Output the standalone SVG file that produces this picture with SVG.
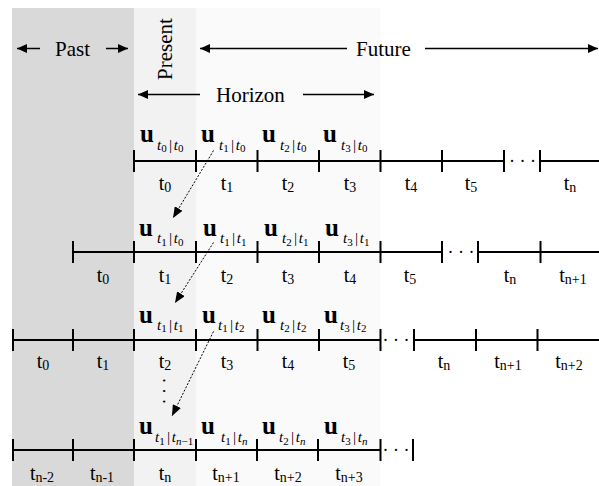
<svg xmlns="http://www.w3.org/2000/svg" width="599" height="486" viewBox="0 0 599 486">
<defs>
<marker id="ah" viewBox="0 0 10 9" refX="10" refY="4.5" markerWidth="10" markerHeight="9" markerUnits="userSpaceOnUse" orient="auto"><path d="M0,0 L10,4.5 L0,9 Z" fill="#000"/></marker>
<marker id="ahd" viewBox="0 0 11 9" refX="11" refY="4.5" markerWidth="11" markerHeight="9" markerUnits="userSpaceOnUse" orient="auto"><path d="M0,0 L11,4.5 L0,9 Z" fill="#000"/></marker>
</defs>
<style>
text { font-family: "Liberation Serif", "Times New Roman", serif; fill:#000; }
.hd { font-size:21px; }
.ha { stroke:#000; stroke-width:1.5; fill:none; marker-end:url(#ah); }
.ax { stroke:#000; stroke-width:2; fill:none; }
.lbl { font-size:20px; text-anchor:middle; }
.ls { font-size:14px; }
.u { font-weight:bold; font-size:25px; }
.i { font-style:italic; font-size:15px; }
.d { font-size:11px; }
.di { font-size:11px; font-style:italic; }
.dots { font-size:18px; text-anchor:middle; }
.cn { stroke:#000; stroke-width:1; stroke-dasharray:2 1.6; fill:none; marker-end:url(#ahd); }
</style>
<g id="background">
<rect x="12" y="8" width="122" height="478" fill="#d9d9d9"/>
<rect x="134" y="8" width="62" height="478" fill="#f2f2f2"/>
<rect x="196" y="8" width="184.5" height="478" fill="#fafafa"/>
</g>
<g id="header">
<line class="ha" x1="40" y1="48.5" x2="17" y2="48.5"/>
<text class="hd" x="55" y="56">Past</text>
<line class="ha" x1="106" y1="48.5" x2="128" y2="48.5"/>
<text class="hd" transform="translate(172,49) rotate(-90)" text-anchor="middle">Present</text>
<line class="ha" x1="347" y1="48.5" x2="200" y2="48.5"/>
<text class="hd" x="356" y="56">Future</text>
<line class="ha" x1="425" y1="48.5" x2="598" y2="48.5"/>
<line class="ha" x1="200" y1="94.5" x2="138" y2="94.5"/>
<text class="hd" x="216" y="101.5">Horizon</text>
<line class="ha" x1="303" y1="94.5" x2="374" y2="94.5"/>
</g>
<g id="row1">
<path class="ax" d="M134,161 H504 M540,161 H599 M134,150 V172 M196,150 V172 M257.5,150 V172 M319,150 V172 M380.5,150 V172 M442,150 V172 M504,150 V172 M540,150 V172"/>
<text class="dots" x="522.5" y="167">· · ·</text>
<text x="140" y="141.5"><tspan class="u">u</tspan><tspan class="i" x="157" y="149.5">t</tspan><tspan class="d" dy="2.5">0</tspan><tspan class="i" dx="1.5" dy="-2.5">|</tspan><tspan class="i" dx="1.5">t</tspan><tspan class="d" dy="2.5">0</tspan></text>
<text x="201" y="141.5"><tspan class="u">u</tspan><tspan class="i" x="219" y="149.5">t</tspan><tspan class="d" dy="2.5">1</tspan><tspan class="i" dx="1.5" dy="-2.5">|</tspan><tspan class="i" dx="1.5">t</tspan><tspan class="d" dy="2.5">0</tspan></text>
<text x="262" y="141.5"><tspan class="u">u</tspan><tspan class="i" x="280" y="149.5">t</tspan><tspan class="d" dy="2.5">2</tspan><tspan class="i" dx="1.5" dy="-2.5">|</tspan><tspan class="i" dx="1.5">t</tspan><tspan class="d" dy="2.5">0</tspan></text>
<text x="323" y="141.5"><tspan class="u">u</tspan><tspan class="i" x="341" y="149.5">t</tspan><tspan class="d" dy="2.5">3</tspan><tspan class="i" dx="1.5" dy="-2.5">|</tspan><tspan class="i" dx="1.5">t</tspan><tspan class="d" dy="2.5">0</tspan></text>
<text class="lbl" x="165" y="190">t<tspan class="ls" dy="2">0</tspan></text>
<text class="lbl" x="227" y="190">t<tspan class="ls" dy="2">1</tspan></text>
<text class="lbl" x="288" y="190">t<tspan class="ls" dy="2">2</tspan></text>
<text class="lbl" x="350" y="190">t<tspan class="ls" dy="2">3</tspan></text>
<text class="lbl" x="411" y="190">t<tspan class="ls" dy="2">4</tspan></text>
<text class="lbl" x="471" y="190">t<tspan class="ls" dy="2">5</tspan></text>
<text class="lbl" x="570" y="190">t<tspan class="ls" dy="2">n</tspan></text>
</g>
<g id="row2">
<path class="ax" d="M73,252 H442 M478,252 H599 M73,241 V263 M134,241 V263 M196,241 V263 M257.5,241 V263 M319,241 V263 M380.5,241 V263 M442,241 V263 M478,241 V263 M540.5,241 V263"/>
<text class="dots" x="461" y="258">· · ·</text>
<text x="139" y="236"><tspan class="u">u</tspan><tspan class="i" x="157" y="243">t</tspan><tspan class="d" dy="2.5">1</tspan><tspan class="i" dx="1.5" dy="-2.5">|</tspan><tspan class="i" dx="1.5">t</tspan><tspan class="d" dy="2.5">0</tspan></text>
<text x="203" y="236"><tspan class="u">u</tspan><tspan class="i" x="220" y="243">t</tspan><tspan class="d" dy="2.5">1</tspan><tspan class="i" dx="1.5" dy="-2.5">|</tspan><tspan class="i" dx="1.5">t</tspan><tspan class="d" dy="2.5">1</tspan></text>
<text x="264" y="236"><tspan class="u">u</tspan><tspan class="i" x="282" y="243">t</tspan><tspan class="d" dy="2.5">2</tspan><tspan class="i" dx="1.5" dy="-2.5">|</tspan><tspan class="i" dx="1.5">t</tspan><tspan class="d" dy="2.5">1</tspan></text>
<text x="325" y="236"><tspan class="u">u</tspan><tspan class="i" x="343" y="243">t</tspan><tspan class="d" dy="2.5">3</tspan><tspan class="i" dx="1.5" dy="-2.5">|</tspan><tspan class="i" dx="1.5">t</tspan><tspan class="d" dy="2.5">1</tspan></text>
<text class="lbl" x="103" y="282">t<tspan class="ls" dy="2">0</tspan></text>
<text class="lbl" x="165" y="282">t<tspan class="ls" dy="2">1</tspan></text>
<text class="lbl" x="227" y="282">t<tspan class="ls" dy="2">2</tspan></text>
<text class="lbl" x="288" y="282">t<tspan class="ls" dy="2">3</tspan></text>
<text class="lbl" x="350" y="282">t<tspan class="ls" dy="2">4</tspan></text>
<text class="lbl" x="410" y="282">t<tspan class="ls" dy="2">5</tspan></text>
<text class="lbl" x="510" y="282">t<tspan class="ls" dy="2">n</tspan></text>
<text class="lbl" x="573" y="282">t<tspan class="ls" dy="2">n+1</tspan></text>
</g>
<g id="row3">
<path class="ax" d="M13,340 H380.5 M414,340 H599 M13,329 V351 M73,329 V351 M134,329 V351 M196,329 V351 M257.5,329 V351 M319,329 V351 M380.5,329 V351 M414,329 V351 M476,329 V351 M537.5,329 V351"/>
<text class="dots" x="396" y="346">· · ·</text>
<text x="139" y="322.5"><tspan class="u">u</tspan><tspan class="i" x="157" y="329.5">t</tspan><tspan class="d" dy="2.5">1</tspan><tspan class="i" dx="1.5" dy="-2.5">|</tspan><tspan class="i" dx="1.5">t</tspan><tspan class="d" dy="2.5">1</tspan></text>
<text x="202" y="322.5"><tspan class="u">u</tspan><tspan class="i" x="218" y="329.5">t</tspan><tspan class="d" dy="2.5">1</tspan><tspan class="i" dx="1.5" dy="-2.5">|</tspan><tspan class="i" dx="1.5">t</tspan><tspan class="d" dy="2.5">2</tspan></text>
<text x="262" y="322.5"><tspan class="u">u</tspan><tspan class="i" x="280" y="329.5">t</tspan><tspan class="d" dy="2.5">2</tspan><tspan class="i" dx="1.5" dy="-2.5">|</tspan><tspan class="i" dx="1.5">t</tspan><tspan class="d" dy="2.5">2</tspan></text>
<text x="324" y="322.5"><tspan class="u">u</tspan><tspan class="i" x="340" y="329.5">t</tspan><tspan class="d" dy="2.5">3</tspan><tspan class="i" dx="1.5" dy="-2.5">|</tspan><tspan class="i" dx="1.5">t</tspan><tspan class="d" dy="2.5">2</tspan></text>
<text class="lbl" x="43" y="368">t<tspan class="ls" dy="2">0</tspan></text>
<text class="lbl" x="103" y="368">t<tspan class="ls" dy="2">1</tspan></text>
<text class="lbl" x="165" y="368">t<tspan class="ls" dy="2">2</tspan></text>
<text class="lbl" x="227" y="368">t<tspan class="ls" dy="2">3</tspan></text>
<text class="lbl" x="288" y="368">t<tspan class="ls" dy="2">4</tspan></text>
<text class="lbl" x="349" y="368">t<tspan class="ls" dy="2">5</tspan></text>
<text class="lbl" x="444" y="368">t<tspan class="ls" dy="2">n</tspan></text>
<text class="lbl" x="508" y="368">t<tspan class="ls" dy="2">n+1</tspan></text>
<text class="lbl" x="569" y="368">t<tspan class="ls" dy="2">n+2</tspan></text>
<text class="dots" transform="rotate(90 163 391)" x="163" y="391" dy="5">· · ·</text>
</g>
<g id="row4">
<path class="ax" d="M13,450 H380.5 M13,439 V461 M73,439 V461 M134,439 V461 M196,439 V461 M257,439 V461 M318,439 V461 M380.5,439 V461 M413,439 V461"/>
<text class="dots" x="396" y="456">· · ·</text>
<text x="139" y="434"><tspan class="u">u</tspan><tspan class="i" x="155" y="442">t</tspan><tspan class="d" dy="2.5">1</tspan><tspan class="i" dx="1.5" dy="-2.5">|</tspan><tspan class="i" dx="1.5">t</tspan><tspan class="di" dy="2.5">n</tspan><tspan class="d">−1</tspan></text>
<text x="201" y="434"><tspan class="u">u</tspan><tspan class="i" x="221" y="442">t</tspan><tspan class="d" dy="2.5">1</tspan><tspan class="i" dx="1.5" dy="-2.5">|</tspan><tspan class="i" dx="1.5">t</tspan><tspan class="di" dy="2.5">n</tspan></text>
<text x="262" y="434"><tspan class="u">u</tspan><tspan class="i" x="279" y="442">t</tspan><tspan class="d" dy="2.5">2</tspan><tspan class="i" dx="1.5" dy="-2.5">|</tspan><tspan class="i" dx="1.5">t</tspan><tspan class="di" dy="2.5">n</tspan></text>
<text x="324" y="434"><tspan class="u">u</tspan><tspan class="i" x="341" y="442">t</tspan><tspan class="d" dy="2.5">3</tspan><tspan class="i" dx="1.5" dy="-2.5">|</tspan><tspan class="i" dx="1.5">t</tspan><tspan class="di" dy="2.5">n</tspan></text>
<text class="lbl" x="42" y="480">t<tspan class="ls" dy="2">n-2</tspan></text>
<text class="lbl" x="102" y="480">t<tspan class="ls" dy="2">n-1</tspan></text>
<text class="lbl" x="165" y="480">t<tspan class="ls" dy="2">n</tspan></text>
<text class="lbl" x="226" y="480">t<tspan class="ls" dy="2">n+1</tspan></text>
<text class="lbl" x="288" y="480">t<tspan class="ls" dy="2">n+2</tspan></text>
<text class="lbl" x="349" y="480">t<tspan class="ls" dy="2">n+3</tspan></text>
</g>
<g id="connectors">
<line class="cn" x1="213.5" y1="150.5" x2="173" y2="218"/>
<line class="cn" x1="213.5" y1="242.5" x2="175" y2="303"/>
<line class="cn" x1="213.5" y1="331.5" x2="172" y2="416"/>
</g>
</svg>
